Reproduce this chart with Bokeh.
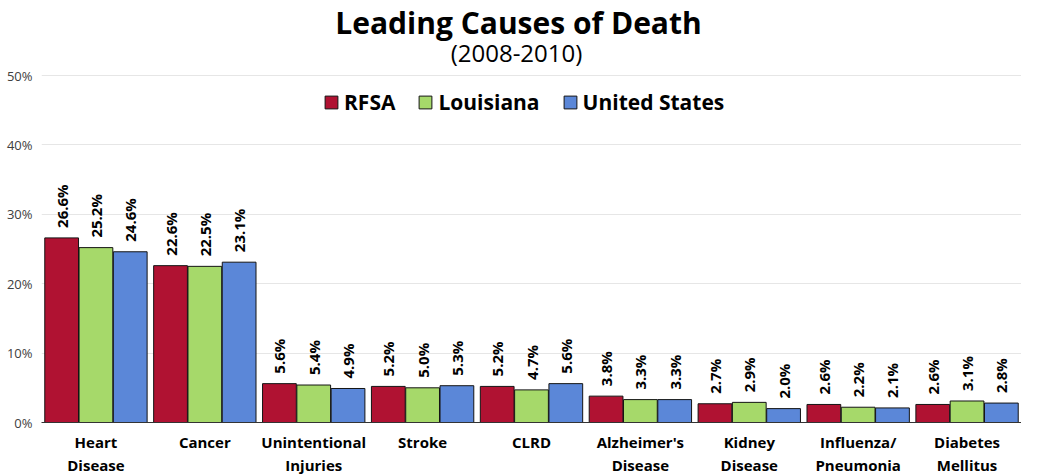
import math
from bokeh.plotting import figure
from bokeh.models import (ColumnDataSource, Label, Legend, LegendItem, FixedTicker, PrintfTickFormatter,
                          Range1d, CategoricalAxis, FactorRange)
from bokeh.transform import dodge
from bokeh.core.properties import value
from bokeh.embed import file_html
from bokeh.resources import INLINE

label_line1 = ["Heart", "Cancer", "Unintentional", "Stroke", "CLRD",
               "Alzheimer's", "Kidney", "Influenza/", "Diabetes"]
label_line2 = ["Disease", "", "Injuries", "", "",
               "Disease", "Disease", "Pneumonia", "Mellitus"]
rfsa = [26.6, 22.6, 5.6, 5.2, 5.2, 3.8, 2.7, 2.6, 2.6]
louisiana = [25.2, 22.5, 5.4, 5.0, 4.7, 3.3, 2.9, 2.2, 3.1]
united_states = [24.6, 23.1, 4.9, 5.3, 5.6, 3.3, 2.0, 2.1, 2.8]
series_names = ["RFSA", "Louisiana", "United States"]
colors = ["#B01232", "#A6D96A", "#5B87D8"]
y_ticks = [0, 10, 20, 30, 40, 50]
title_text = "Leading Causes of Death"
subtitle_text = "(2008-2010)"

FONT = "Open Sans"

# layout (pixels)
FRAME_H = 422          # plot frame height
TOP_GAP = 75           # space between frame top and the 50% gridline
PX_PER_UNIT = (FRAME_H - TOP_GAP) / 50.0
Y_MAX = FRAME_H / PX_PER_UNIT

def y_from_top(px):
    return (FRAME_H - px) / PX_PER_UNIT

# second-line factors made unique (blank ones get non-breaking spaces; others zero-width spaces)
line2_factors = [(t + "\u200b" * i) if t else "\u00a0" * (i + 1) for i, t in enumerate(label_line2)]

p = figure(x_range=label_line1, y_range=Range1d(0, Y_MAX), width=1021, frame_height=FRAME_H,
           output_backend="svg", toolbar_location=None, title=None,
           min_border_left=41, min_border_right=0, min_border_top=0, min_border_bottom=0)
p.outline_line_color = None
p.extra_x_ranges = {"line2": FactorRange(factors=line2_factors)}

series = [rfsa, louisiana, united_states]
offsets = [-0.315, 0.0, 0.315]
renderers = []
for name, vals, col, off in zip(series_names, series, colors, offsets):
    src = ColumnDataSource(dict(cause=label_line1, val=vals, lab=[f"{v:.1f}%" for v in vals]))
    r = p.vbar(x=dodge("cause", off, range=p.x_range), top="val", width=0.31, source=src,
               fill_color=col, line_color="#141414", line_width=1)
    renderers.append(r)
    p.text(x=dodge("cause", off, range=p.x_range), y="val", text="lab", source=src,
           angle=math.pi / 2, text_align="left", text_baseline="middle", y_offset=-10,
           text_font=value(FONT), text_font_size="15px", text_font_style="bold", text_color="#000000")

n_cat = len(label_line1)
p.add_layout(Label(x=n_cat / 2, y=y_from_top(22), x_offset=-13, text=title_text,
                   text_align="center", text_baseline="alphabetic", text_font=FONT,
                   text_font_size="30px", text_font_style="bold", text_color="#000000"))
p.add_layout(Label(x=n_cat / 2, y=y_from_top(52), x_offset=-15, text=subtitle_text,
                   text_align="center", text_baseline="alphabetic", text_font=FONT,
                   text_font_size="24px", text_font_style="normal", text_color="#000000"))

legend = Legend(items=[LegendItem(label=n, renderers=[r]) for n, r in zip(series_names, renderers)],
                location=(282, 306), orientation="horizontal", label_text_font=FONT,
                label_text_font_size="21px", label_text_font_style="bold", label_text_color="#000000",
                border_line_color=None, background_fill_alpha=0, glyph_width=16, glyph_height=16,
                spacing=22, label_standoff=5, margin=0, padding=0)
p.add_layout(legend, "center")

p.yaxis.ticker = FixedTicker(ticks=y_ticks)
p.yaxis.formatter = PrintfTickFormatter(format="%d%%")
p.yaxis.axis_line_color = None
p.yaxis.major_tick_line_color = None
p.yaxis.minor_tick_line_color = None
p.yaxis.major_tick_out = 0
p.yaxis.minor_tick_out = 0
p.yaxis.major_label_text_font = FONT
p.yaxis.major_label_text_font_size = "13px"
p.yaxis.major_label_text_color = "#404040"
p.yaxis.major_label_standoff = 9

axis_label_style = dict(major_tick_line_color=None, minor_tick_line_color=None,
                        major_tick_out=0, minor_tick_out=0, axis_label=None, axis_label_standoff=0,
                        major_label_text_font=FONT, major_label_text_font_size="15px",
                        major_label_text_font_style="bold", major_label_text_color="#000000",
                        major_label_text_line_height=1.0)
xa = p.xaxis[0]
xa.update(axis_line_color="#333333", axis_line_width=1, major_label_standoff=9, **axis_label_style)

ax2 = CategoricalAxis(x_range_name="line2", axis_line_color=None, major_label_standoff=0,
                      **axis_label_style)
p.add_layout(ax2, "below")

p.xgrid.grid_line_color = None
p.ygrid.grid_line_color = "#e6e6e6"
p.ygrid.grid_line_width = 1
p.x_range.range_padding = 0.0

open("out.html", "w").write(file_html(p, INLINE))
